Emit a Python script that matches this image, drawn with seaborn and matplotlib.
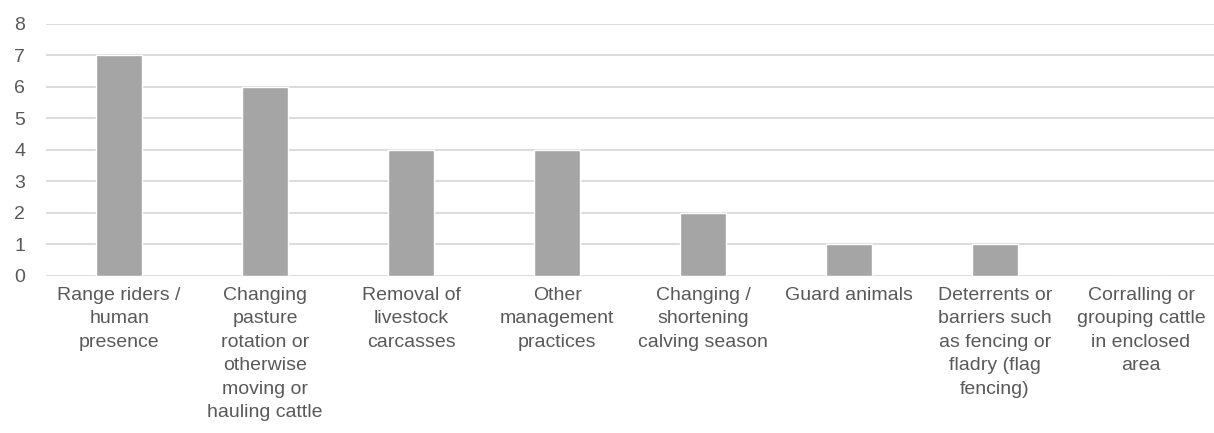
import matplotlib
matplotlib.use("Agg")
import matplotlib.pyplot as plt
import seaborn as sns
import pandas as pd

# --- data ---
categories = [
    "Range riders /\nhuman\npresence",
    "Changing\npasture\nrotation or\notherwise\nmoving or\nhauling cattle",
    "Removal of\nlivestock\ncarcasses",
    "Other\nmanagement\npractices",
    "Changing /\nshortening\ncalving season",
    "Guard animals",
    "Deterrents or\nbarriers such\nas fencing or\nfladry (flag\nfencing)",
    "Corralling or\ngrouping cattle\nin enclosed\narea",
]
counts = [7, 6, 4, 4, 2, 1, 1, 0]
y_ticks = [0, 1, 2, 3, 4, 5, 6, 7, 8]

df = pd.DataFrame({"category": categories, "count": counts})

sns.set_style("white")
plt.rcParams["font.family"] = ["Liberation Sans", "DejaVu Sans"]

fig = plt.figure(figsize=(12.14, 4.33), dpi=100)
ax = fig.add_axes([0.038, 0.3626, 0.962, 0.582])

sns.barplot(data=df, x="category", y="count", color="#A5A5A5",
            width=0.31, saturation=1, ax=ax, zorder=3)

ax.set_ylim(0, 8)
ax.set_yticks(y_ticks)
ax.set_xlim(-0.5, len(categories) - 0.5)
ax.grid(axis="y", color="#D9D9D9", linewidth=1.3, zorder=0)
ax.set_axisbelow(True)
for s in ax.spines.values():
    s.set_visible(False)

ax.set_xlabel("")
ax.set_ylabel("")
ax.tick_params(axis="y", length=0, pad=15, labelsize=14, labelcolor="#595959")
ax.tick_params(axis="x", length=0, pad=8, labelsize=14, labelcolor="#595959")
for lbl in ax.get_xticklabels():
    lbl.set_linespacing(1.49)
    lbl.set_horizontalalignment("center")

fig.savefig("out.png", dpi=100)
